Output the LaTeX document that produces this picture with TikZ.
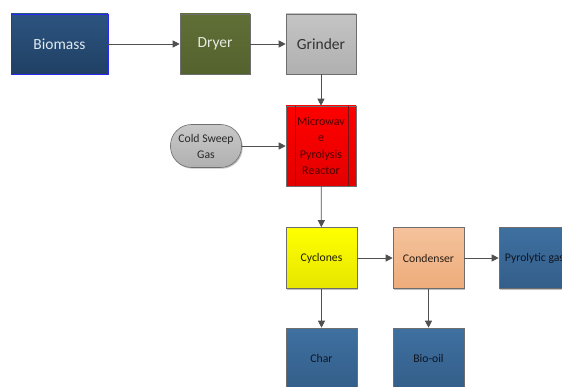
\documentclass[tikz,border=0pt]{standalone}
\usepackage{fontspec}
\setmainfont{Carlito}
\usetikzlibrary{arrows.meta,shadows}
\definecolor{edgegray}{HTML}{6E6E6E}
\definecolor{arrowgray}{HTML}{505050}
\definecolor{reacline}{HTML}{781414}
\tikzset{
  box/.style={draw=edgegray, line width=0.6pt, minimum width=70pt, minimum height=60pt,
    inner sep=2pt, align=center, font=\fontsize{11.7}{14}\selectfont,
    drop shadow={shadow xshift=1.2pt, shadow yshift=-1.2pt, opacity=0.25, fill=black}},
  bigbox/.style={box, font=\fontsize{15.5}{18}\selectfont},
  flow/.style={draw=arrowgray, line width=0.8pt, -{Triangle[length=7pt,width=7pt]}},
}
\begin{document}
\begin{tikzpicture}[x=1pt,y=-1pt]
\clip (0,0) rectangle (562,387);
\fill[white] (0,0) rectangle (562,387);
\node[bigbox, draw={rgb,255:red,40;green,40;blue,240}, minimum width=97pt, top color={rgb,255:red,44;green,84;blue,128}, bottom color={rgb,255:red,32;green,64;blue,100}, text={rgb,255:red,225;green,232;blue,240}] (bio) at (59.5,44) {Biomass};
\node[bigbox, top color={rgb,255:red,96;green,111;blue,54}, bottom color={rgb,255:red,84;green,98;blue,46}, text={rgb,255:red,230;green,235;blue,225}] (dry) at (215,44) {Dryer};
\node[bigbox, top color={rgb,255:red,196;green,196;blue,196}, bottom color={rgb,255:red,176;green,176;blue,176}, text={rgb,255:red,50;green,50;blue,50}] (grind) at (321,44) {Grinder};
\node[box, minimum height=80pt, top color={rgb,255:red,255;green,0;blue,0}, bottom color={rgb,255:red,228;green,0;blue,0}, text={rgb,255:red,80;green,0;blue,0}, font=\fontsize{12}{16.5}\selectfont] (reac) at (321,146) {Microwav\\e\\Pyrolysis\\Reactor};
\draw[reacline, line width=0.6pt] ([xshift=9.5pt]reac.north west) -- ([xshift=9.5pt]reac.south west);
\draw[reacline, line width=0.6pt] ([xshift=-8.5pt]reac.north east) -- ([xshift=-8.5pt]reac.south east);
\node[box, minimum width=71pt, minimum height=43pt, rounded corners=21pt, top color={rgb,255:red,200;green,200;blue,200}, bottom color={rgb,255:red,176;green,176;blue,176}, text={rgb,255:red,40;green,40;blue,40}, font=\fontsize{11.7}{16}\selectfont] (cold) at (206,146) {Cold Sweep\\Gas};
\node[box, minimum width=71pt, minimum height=61pt, top color={rgb,255:red,255;green,255;blue,0}, bottom color={rgb,255:red,230;green,230;blue,0}, text={rgb,255:red,30;green,30;blue,0}] (cyc) at (321.5,258) {Cyclones};
\node[box, minimum width=71pt, minimum height=61pt, top color={rgb,255:red,244;green,194;blue,156}, bottom color={rgb,255:red,238;green,172;blue,122}, text={rgb,255:red,40;green,30;blue,20}] (cond) at (428.5,258) {Condenser};
\node[box, minimum width=71pt, minimum height=61pt, top color={rgb,255:red,62;green,112;blue,160}, bottom color={rgb,255:red,52;green,94;blue,138}, text={rgb,255:red,15;green,20;blue,30}] (gas) at (534.5,258) {Pyrolytic gas};
\node[box, minimum width=71pt, minimum height=61pt, top color={rgb,255:red,62;green,112;blue,160}, bottom color={rgb,255:red,52;green,94;blue,138}, text={rgb,255:red,15;green,20;blue,30}] (char) at (321.5,358.5) {Char};
\node[box, minimum width=71pt, minimum height=61pt, top color={rgb,255:red,62;green,112;blue,160}, bottom color={rgb,255:red,52;green,94;blue,138}, text={rgb,255:red,15;green,20;blue,30}] (oil) at (428.5,358.5) {Bio-oil};
\draw[flow] (bio) -- (dry);
\draw[flow] (dry) -- (grind);
\draw[flow] (grind) -- (reac);
\draw[flow] (cold) -- (reac);
\draw[flow] (reac) -- (cyc);
\draw[flow] (cyc) -- (cond);
\draw[flow] (cond) -- (gas);
\draw[flow] (cyc) -- (char);
\draw[flow] (cond) -- (oil);
\end{tikzpicture}
\end{document}
